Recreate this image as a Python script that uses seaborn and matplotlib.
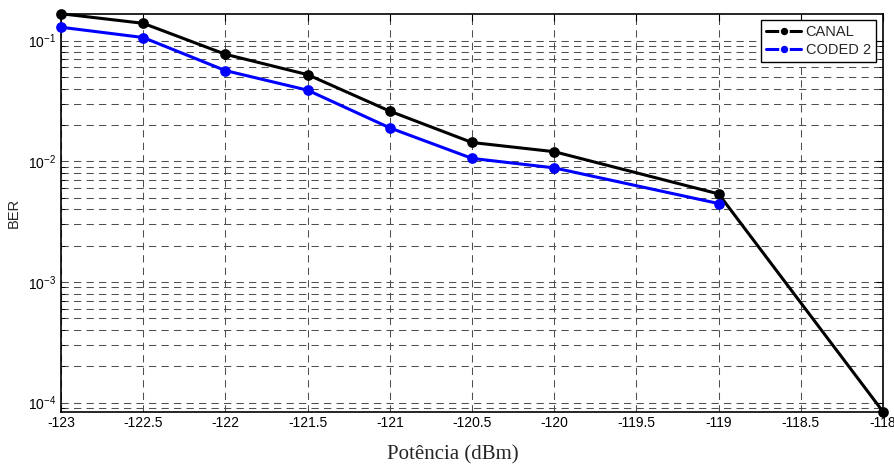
import numpy as np
import pandas as pd
import matplotlib
matplotlib.use("Agg")
import matplotlib.pyplot as plt
import seaborn as sns
from matplotlib.ticker import LogLocator, FixedLocator, NullFormatter

# Data
potencia_canal = [-123, -122.5, -122, -121.5, -121, -120.5, -120, -119, -118]
ber_canal = [0.167, 0.139, 0.077, 0.0522, 0.0260, 0.0143, 0.0120, 0.00536, 8.4e-5]
potencia_coded = [-123, -122.5, -122, -121.5, -121, -120.5, -120, -119]
ber_coded = [0.129, 0.106, 0.0564, 0.0388, 0.0189, 0.01056, 0.00881, 0.00446]
series_names = ["CANAL", "CODED 2"]
x_ticks = [-123, -122.5, -122, -121.5, -121, -120.5, -120, -119.5, -119, -118.5, -118]
x_tick_labels = ["-123", "-122.5", "-122", "-121.5", "-121", "-120.5", "-120",
                 "-119.5", "-119", "-118.5", "-118"]

df = pd.concat([
    pd.DataFrame({"x": potencia_canal, "y": ber_canal, "serie": series_names[0]}),
    pd.DataFrame({"x": potencia_coded, "y": ber_coded, "serie": series_names[1]}),
])

sns.set_theme(style="white")
plt.rcParams["font.family"] = ["Liberation Sans", "DejaVu Sans"]
plt.rcParams["axes.unicode_minus"] = False
plt.rcParams["mathtext.fontset"] = "custom"
plt.rcParams["mathtext.rm"] = "Liberation Sans"
plt.rcParams["mathtext.it"] = "Liberation Sans:italic"
plt.rcParams["mathtext.bf"] = "Liberation Sans:bold"

fig = plt.figure(figsize=(8.95, 4.71), dpi=100)
ax = fig.add_axes([0.0682, 0.1259, 0.9184, 0.8450])

sns.lineplot(data=df, x="x", y="y", hue="serie", palette=["#000000", "#0000ff"],
             marker="o", markersize=6.5, markeredgewidth=1.2, linewidth=2.2,
             estimator=None, sort=False, ax=ax, zorder=3)
for line, c in zip(ax.get_lines()[:2], ["#000000", "#0000ff"]):
    line.set_markeredgecolor(c)
    line.set_clip_on(False)

ax.set_yscale("log")
ax.set_xlim(-123, -118)
ax.set_ylim(min(ber_canal + ber_coded), max(ber_canal + ber_coded))
ax.xaxis.set_major_locator(FixedLocator(x_ticks))
ax.set_xticklabels(x_tick_labels)
ax.yaxis.set_major_locator(LogLocator(base=10))
ax.yaxis.set_minor_locator(LogLocator(base=10, subs=np.arange(2, 10)))
ax.yaxis.set_minor_formatter(NullFormatter())

ax.grid(True, which="major", axis="both", color="#505050", linestyle=(0, (7, 5)), linewidth=0.75)
ax.grid(True, which="minor", axis="y", color="#505050", linestyle=(0, (7, 5)), linewidth=0.75)
ax.set_axisbelow(True)

ax.tick_params(axis="both", which="both", direction="in", top=True, right=True,
               labelsize=10, colors="black")
ax.tick_params(axis="both", which="major", length=5, width=0.8)
ax.tick_params(axis="y", which="minor", length=3, width=0.6, left=True, right=True)
ax.tick_params(axis="x", which="major", pad=3)
for s in ax.spines.values():
    s.set_color("black")
    s.set_linewidth(1.2)

ax.set_xlabel("Potência (dBm)", fontsize=15, family=["Liberation Serif", "DejaVu Serif"])
ax.xaxis.set_label_coords(0.477, -0.083)
ax.set_ylabel("BER", fontsize=10.5)
ax.yaxis.set_label_coords(-0.049, 0.5)

leg = ax.legend(loc="upper right", bbox_to_anchor=(0.9965, 0.9955), fontsize=10.5,
                frameon=True, fancybox=False, handlelength=2.4, handletextpad=0.3,
                borderpad=0.35, labelspacing=0.25, borderaxespad=0.3)
leg.get_frame().set_edgecolor("black")
leg.get_frame().set_linewidth(1.0)
leg.get_frame().set_alpha(1)

fig.savefig("out.png", dpi=100)
